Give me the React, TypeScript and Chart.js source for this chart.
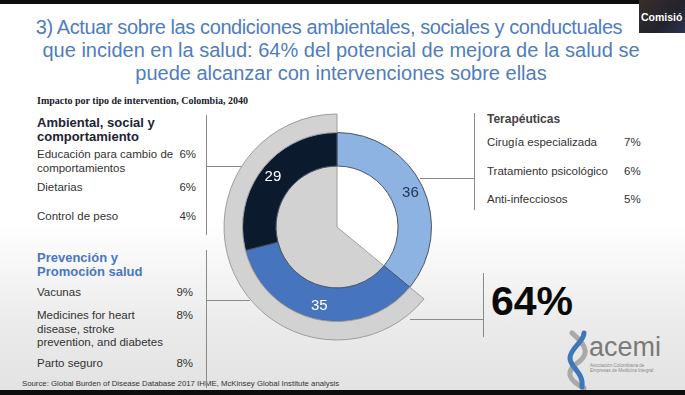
import React, { useEffect, useRef } from 'react';
import { Chart, registerables } from 'chart.js';

Chart.register(...registerables);

// ---------- data ----------
const segmentLabels = ['Terapéuticas', 'Prevención y Promoción salud', 'Ambiental, social y comportamiento'];
const segmentValues = [36, 35, 29];
const highlightLabels = ['Terapéuticas', 'Ambiental + Prevención'];
const highlightValues = [36, 64];
const highlightTotal = '64%';

const ambientalTitle = ['Ambiental, social y', 'comportamiento'];
const ambientalItems = [['Educación para cambio de', 'comportamientos'], ['Dietarias'], ['Control de peso']];
const ambientalPct = ['6%', '6%', '4%'];

const prevencionTitle = ['Prevención y', 'Promoción salud'];
const prevencionItems = [['Vacunas'], ['Medicines for heart', 'disease, stroke', 'prevention, and diabetes'], ['Parto seguro']];
const prevencionPct = ['9%', '8%', '8%'];

const terapeuticasTitle = 'Terapéuticas';
const terapeuticasItems = ['Cirugía especializada', 'Tratamiento psicológico', 'Anti-infecciosos'];
const terapeuticasPct = ['7%', '6%', '5%'];

const titleLines = [
  '3) Actuar sobre las condiciones ambientales, sociales y conductuales',
  'que inciden en la salud: 64% del potencial de mejora de la salud se',
  'puede alcanzar con intervenciones sobre ellas',
];
const subtitle = 'Impacto por tipo de intervention, Colombia, 2040';
const source = 'Source: Global Burden of Disease Database 2017 IHME, McKinsey Global Institute analysis';

// ---------- styles ----------
const FONT = '"Liberation Sans", Arial, sans-serif';
const RING_COLORS = ['#8DB3E2', '#4674BF', '#0C1A2E'];
const LABEL_COLORS = ['#1F3350', '#ffffff', '#ffffff'];
const GREY = '#D2D2D2';
const GREY_BORDER = '#9C9C9C';
const LINE = '#8a8a8a';

const T = ({ x, y, size, children, weight = 400, color = '#333', family = FONT, w, align = 'left', ls = 0 }: any) => {
  const lh = size * 1.15;
  return (
    <div
      style={{
        position: 'absolute',
        left: x,
        top: y - lh / 2,
        width: w,
        fontFamily: family,
        fontSize: size,
        fontWeight: weight,
        lineHeight: `${lh}px`,
        letterSpacing: ls,
        color,
        whiteSpace: 'nowrap',
        textAlign: align,
      }}
    >
      {children}
    </div>
  );
};

const HL = ({ x1, x2, y }: any) => (
  <div style={{ position: 'absolute', left: x1, top: y, width: x2 - x1, height: 1, background: LINE }} />
);
const VL = ({ x, y1, y2 }: any) => (
  <div style={{ position: 'absolute', left: x, top: y1, width: 1, height: y2 - y1, background: LINE }} />
);

const labelPlugin = {
  id: 'segLabels',
  afterDatasetsDraw(chart: any) {
    const meta = chart.getDatasetMeta(1);
    const ctx = chart.ctx;
    ctx.save();
    ctx.font = `15px ${FONT}`;
    ctx.textAlign = 'center';
    ctx.textBaseline = 'middle';
    meta.data.forEach((arc: any, i: number) => {
      const p = arc.getProps(['x', 'y', 'startAngle', 'endAngle', 'innerRadius', 'outerRadius'], true);
      const a = (p.startAngle + p.endAngle) / 2;
      const r = p.innerRadius + (p.outerRadius - p.innerRadius) * 0.6;
      ctx.fillStyle = LABEL_COLORS[i];
      ctx.fillText(String(chart.data.datasets[1].data[i]), p.x + Math.cos(a) * r, p.y + Math.sin(a) * r);
    });
    ctx.restore();
  },
};

export default function App() {
  const ref = useRef<HTMLCanvasElement>(null);
  useEffect(() => {
    const chart = new Chart(ref.current as HTMLCanvasElement, {
      type: 'doughnut',
      data: {
        labels: segmentLabels,
        datasets: [
          {
            label: 'outer',
            data: highlightValues,
            backgroundColor: ['rgba(0,0,0,0)', GREY],
            borderColor: ['rgba(0,0,0,0)', GREY_BORDER],
            borderWidth: [0, 1],
            weight: 18.5,
          } as any,
          {
            label: 'ring',
            data: segmentValues,
            backgroundColor: RING_COLORS,
            borderColor: '#4b5666',
            borderWidth: 1,
            weight: 33.5,
          } as any,
          {
            label: 'inner',
            data: highlightValues,
            backgroundColor: ['#ffffff', GREY],
            borderColor: ['rgba(0,0,0,0)', GREY_BORDER],
            borderWidth: [0, 1],
            weight: 61,
          } as any,
        ],
      },
      options: {
        responsive: false,
        animation: false,
        cutout: 0,
        radius: 113,
        events: [],
        layout: { padding: 0 },
        plugins: { legend: { display: false }, tooltip: { enabled: false } },
      } as any,
      plugins: [labelPlugin],
    });
    return () => chart.destroy();
  }, []);

  const darkHead = '#1C2334';
  const blueHead = '#4A76C0';

  return (
    <div
      style={{
        position: 'fixed',
        left: 0,
        top: 0,
        width: 685,
        height: 395,
        overflow: 'hidden',
        background: 'linear-gradient(to bottom, #ffffff 0%, #ffffff 56%, #ebebeb 82%, #e2e2e2 100%)',
        fontFamily: FONT,
      }}
    >
      {/* top / bottom black bars */}
      <div style={{ position: 'absolute', left: 0, top: 0, width: 685, height: 4, background: '#0d0d0d' }} />
      <div style={{ position: 'absolute', left: 0, top: 390, width: 685, height: 5, background: '#0d0d0d' }} />

      {/* title */}
      {titleLines.map((l, i) => (
        <T
          key={i}
          x={0}
          w={i === 0 ? 658 : 682}
          align="center"
          y={27 + i * 23}
          size={20}
          ls={i === 0 ? -0.4 : 0}
          color="#4F7DBD"
        >
          {l}
        </T>
      ))}

      {/* webcam thumbnail */}
      <div
        style={{
          position: 'absolute',
          left: 639,
          top: 0,
          width: 46,
          height: 33,
          background: 'linear-gradient(135deg, #3a2e2a 0%, #23232c 60%, #2b3550 100%)',
        }}
      />
      <T x={641} y={17} size={10.5} weight={700} color="#ffffff">
        Comisió
      </T>

      {/* subtitle */}
      <T x={37} y={101} size={10} weight={700} color="#1a1a2a" family='"Liberation Serif", "DejaVu Serif", serif'>
        {subtitle}
      </T>

      {/* Ambiental group */}
      {ambientalTitle.map((l, i) => (
        <T key={i} x={37} y={123 + i * 14} size={13} weight={700} color={darkHead}>
          {l}
        </T>
      ))}
      {[155, 188, 217].map((y, i) => (
        <React.Fragment key={i}>
          {ambientalItems[i].map((l, j) => (
            <T key={j} x={37} y={y + j * 14} size={11.5} color="#333">
              {l}
            </T>
          ))}
          <T x={160} w={36} align="right" y={y} size={11.5} color="#333">
            {ambientalPct[i]}
          </T>
        </React.Fragment>
      ))}

      {/* Prevencion group */}
      {prevencionTitle.map((l, i) => (
        <T key={i} x={37} y={258 + i * 14} size={13} weight={700} color={blueHead}>
          {l}
        </T>
      ))}
      {[293, 316, 364].map((y, i) => (
        <React.Fragment key={i}>
          {prevencionItems[i].map((l, j) => (
            <T key={j} x={37} y={y + j * 13.5} size={11.5} color="#333">
              {l}
            </T>
          ))}
          <T x={157} w={36} align="right" y={y} size={11.5} color="#333">
            {prevencionPct[i]}
          </T>
        </React.Fragment>
      ))}

      {/* source */}
      <T x={22} y={384} size={7.8} color="#333">
        {source}
      </T>

      {/* connector lines */}
      <VL x={206} y1={115} y2={235} />
      <HL x1={206} x2={250} y={166} />
      <VL x={206} y1={250} y2={388} />
      <HL x1={206} x2={250} y={300} />
      <VL x={474} y1={113} y2={210} />
      <HL x1={420} x2={474} y={178} />
      <VL x={483} y1={273} y2={337} />
      <HL x1={410} x2={483} y={319} />

      {/* chart */}
      <div style={{ position: 'absolute', left: 222, top: 112, width: 230, height: 230 }}>
        <canvas ref={ref} width={230} height={230} style={{ display: 'block', width: 230, height: 230 }} />
      </div>

      {/* Terapeuticas group */}
      <T x={487} y={120} size={12} weight={700} color="#444">
        {terapeuticasTitle}
      </T>
      {[143, 172, 200].map((y, i) => (
        <React.Fragment key={i}>
          <T x={487} y={y} size={11.5} color="#333">
            {terapeuticasItems[i]}
          </T>
          <T x={624} y={y} size={11.5} color="#333">
            {terapeuticasPct[i]}
          </T>
        </React.Fragment>
      ))}

      {/* 64% */}
      <T x={491} y={302} size={41} weight={700} color="#0a0a0a">
        {highlightTotal}
      </T>

      {/* acemi logo */}
      <svg style={{ position: 'absolute', left: 564, top: 330 }} width={30} height={60}>
        <path d="M8 3 C 26 18, 24 26, 12 34 C 2 42, 4 50, 20 58" stroke="#a9a9a9" strokeWidth={5} fill="none" strokeLinecap="round" />
        <path d="M20 3 C 20 12, 6 18, 6 28 C 6 38, 20 42, 18 57" stroke="#3f78b8" strokeWidth={5} fill="none" strokeLinecap="round" />
      </svg>
      <T x={589} y={348} size={27} weight={400} color="#7a7a7a">
        acemi
      </T>
      <T x={590} y={366} size={4.6} color="#8a8a8a">
        Asociación Colombiana de
      </T>
      <T x={590} y={371} size={4.6} color="#8a8a8a">
        Empresas de Medicina Integral
      </T>
    </div>
  );
}
